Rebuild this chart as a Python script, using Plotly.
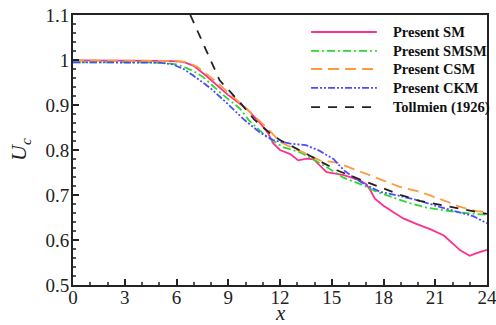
import plotly.graph_objects as go

# ---- data ----
sm_x = [0, 2, 4, 5.5, 6.4, 7.0, 7.75, 8.5, 9.0, 9.6, 10.1, 10.8, 11.3, 11.6, 12.0, 12.6,
        13.05, 13.55, 13.95, 14.3, 14.7, 15.3, 15.7, 16.2, 16.65, 17.0, 17.25, 17.5, 18.0,
        18.6, 19.15, 19.9, 20.7, 21.5, 22.05, 22.45, 23.0, 23.4, 24.0]
sm_u = [0.999, 0.999, 0.999, 0.998, 0.996, 0.987, 0.964, 0.94, 0.922, 0.905, 0.89, 0.862,
        0.838, 0.815, 0.8, 0.791, 0.777, 0.781, 0.779, 0.766, 0.751, 0.747, 0.744, 0.738,
        0.732, 0.724, 0.71, 0.692, 0.676, 0.661, 0.648, 0.636, 0.624, 0.610, 0.592, 0.577,
        0.565, 0.571, 0.578]

smsm_x = [0, 2, 4, 5.5, 6.0, 6.4, 7.0, 7.55, 8.5, 9.7, 10.2, 11.2, 12.2, 13.15, 13.9, 14.7,
          15.65, 16.8, 17.6, 18.6, 19.5, 20.5, 21.5, 22.4, 24]
smsm_u = [0.995, 0.995, 0.995, 0.993, 0.99, 0.985, 0.975, 0.962, 0.929, 0.891, 0.866, 0.83,
          0.806, 0.795, 0.78, 0.762, 0.739, 0.722, 0.707, 0.694, 0.682, 0.672, 0.666, 0.661,
          0.656]

csm_x = [0, 2, 4, 6.0, 6.6, 7.2, 8.3, 9.5, 10.1, 10.8, 11.4, 12.0, 12.7, 13.35, 14.3, 15.3,
         16.25, 17.1, 17.8, 18.95, 19.9, 20.5, 21.7, 22.4, 23.4, 24]
csm_u = [0.999, 0.999, 0.999, 0.998, 0.995, 0.985, 0.952, 0.912, 0.89, 0.865, 0.843, 0.818,
         0.805, 0.795, 0.777, 0.772, 0.758, 0.746, 0.736, 0.718, 0.709, 0.702, 0.685, 0.674,
         0.664, 0.662]

ckm_x = [0, 2, 4, 5.0, 5.8, 6.4, 6.95, 7.95, 8.9, 9.9, 10.8, 11.6, 12.6, 13.5, 14.3, 15.1,
         15.7, 16.3, 17.0, 17.8, 18.95, 20.1, 21.3, 22.4, 23.2, 24]
ckm_u = [0.995, 0.995, 0.995, 0.994, 0.99, 0.98, 0.966, 0.938, 0.905, 0.868, 0.84, 0.822,
         0.814, 0.811, 0.798, 0.78, 0.755, 0.738, 0.722, 0.707, 0.698, 0.687, 0.673, 0.662,
         0.653, 0.637]

tol_x = [6.8, 7.5, 8.5, 9.7, 10.5, 11.4, 12.0, 13.2, 14.0, 15.3, 16.8, 18.0, 19.0, 20.1,
         21.0, 22.3, 23.0, 24.0]
tol_u = [1.1, 1.04, 0.955, 0.905, 0.868, 0.838, 0.822, 0.798, 0.782, 0.755, 0.732, 0.715,
         0.700, 0.687, 0.680, 0.671, 0.666, 0.658]

names = ["Present SM", "Present SMSM", "Present CSM", "Present CKM", "Tollmien (1926)"]
colors = ["#ff2f8e", "#2ed82e", "#ff9a3c", "#4b4bff", "#222222"]
dashes = ["solid", "8px,3px,2px,3px", "11px,6px", "7px,2px,2px,2px,2px,2px", "9px,8px"]
series = [(sm_x, sm_u), (smsm_x, smsm_u), (csm_x, csm_u), (ckm_x, ckm_u), (tol_x, tol_u)]

FONT = "Times New Roman, Liberation Serif, serif"

fig = go.Figure()
for (xs, us), n, c, d in zip(series, names, colors, dashes):
    fig.add_trace(go.Scatter(x=xs, y=us, mode="lines", name=n, showlegend=False,
                             line=dict(color=c, width=1.8, dash=d)))

# custom legend (samples + labels) in paper coordinates
leg_y = [0.937, 0.867, 0.800, 0.730, 0.659]
for n, c, d, yy in zip(names, colors, dashes, leg_y):
    fig.add_shape(type="line", xref="paper", yref="paper", x0=0.575, x1=0.734, y0=yy, y1=yy,
                  line=dict(color=c, width=1.8, dash=d))
    fig.add_annotation(xref="paper", yref="paper", x=0.768, y=yy, text="<b>%s</b>" % n,
                       showarrow=False, xanchor="left", yanchor="middle",
                       font=dict(family=FONT, size=14.5, color="#111"))

# axis titles
fig.add_annotation(xref="paper", yref="paper", x=0.5, y=-0.150, text="<i>x</i>",
                   showarrow=False, xanchor="center", yanchor="bottom", borderpad=0,
                   font=dict(family=FONT, size=21, color="#222"))
fig.add_annotation(xref="paper", yref="paper", x=-0.128, y=0.5,
                   text="<i>U</i><sub><i>c</i></sub>", textangle=-90,
                   showarrow=False, xanchor="center", yanchor="middle",
                   font=dict(family=FONT, size=22, color="#222"))

axis_common = dict(showline=True, linecolor="#222", linewidth=2, mirror=True,
                   ticks="inside", ticklen=6, tickwidth=1.5, tickcolor="#222",
                   showgrid=False, zeroline=False, automargin=False,
                   ticklabeloverflow="allow",
                   tickfont=dict(family=FONT, size=19, color="#222"))

fig.update_xaxes(range=[0, 24], tick0=0, dtick=3, ticklabelstandoff=-6,
                 minor=dict(dtick=1, ticks="inside", ticklen=3, tickcolor="#555"),
                 **axis_common)
fig.update_yaxes(range=[0.5, 1.1], tick0=0.5, dtick=0.1, ticklabelstandoff=-2,
                 minor=dict(dtick=0.02, ticks="inside", ticklen=3, tickcolor="#555"),
                 **axis_common)

fig.update_layout(width=496, height=325, margin=dict(l=73, r=9, t=15, b=40),
                  paper_bgcolor="white", plot_bgcolor="white", showlegend=False)

fig.write_html("out.html")
